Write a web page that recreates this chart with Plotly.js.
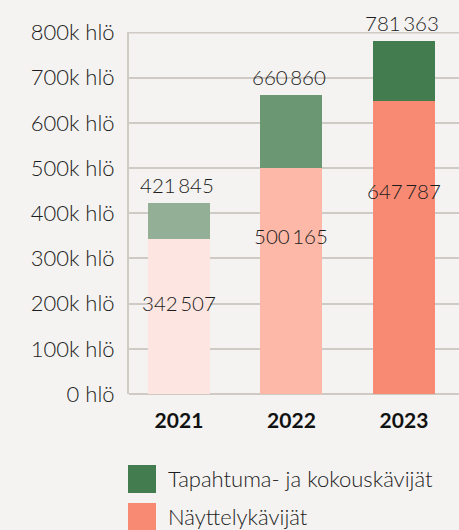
<!DOCTYPE html>
<html>
<head>
<meta charset="utf-8">
<script src="https://cdn.plot.ly/plotly-3.0.1.min.js"></script>
<style>html,body{margin:0;padding:0;background:#f4f3f1;}#chart{width:459px;height:530px;}</style>
</head>
<body>
<div id="chart"></div>
<script>
const years = ['2021', '2022', '2023'];
const nayttely = [342507, 500165, 647787];
const totals = [421845, 660860, 781363];
const tapahtuma = totals.map((t, i) => t - nayttely[i]);
const nayttelyColors = ['#fde6e1', '#fdb8a8', '#f88a74'];
const tapahtumaColors = ['#93b097', '#6b9873', '#437c4f'];
const seriesNames = ['Tapahtuma- ja kokouskävijät', 'Näyttelykävijät'];
const labelFrac = [0.585, 0.70, 0.694];

const fmt = v => String(v).replace(/\B(?=(\d{3})+(?!\d))/g, '\u2009');
const FONT = 'Lato, "Noto Sans", sans-serif';
const TXT = '#1c1c1c';
const FS = 22;
const LFS = 20.5;
const GRID = '#d0cac5';

const traces = [
  {type: 'bar', x: years, y: nayttely, name: seriesNames[1], width: 0.551,
   marker: {color: nayttelyColors}, hoverinfo: 'skip', showlegend: false},
  {type: 'bar', x: years, y: tapahtuma, name: seriesNames[0], width: 0.551,
   marker: {color: tapahtumaColors}, hoverinfo: 'skip', showlegend: false}
];

const annotations = [];
years.forEach((yr, i) => {
  annotations.push({x: i, y: totals[i], text: fmt(totals[i]), showarrow: false,
    xref: 'x', yref: 'y', yanchor: 'bottom', yshift: 4, xshift: -2,
    font: {family: FONT, size: LFS, color: TXT, weight: 300}});
  annotations.push({x: i, y: nayttely[i] * labelFrac[i], text: fmt(nayttely[i]), showarrow: false,
    xref: 'x', yref: 'y', yanchor: 'middle',
    font: {family: FONT, size: LFS, color: TXT, weight: 300}});
});
// legend (custom, large swatches)
const legendColors = [tapahtumaColors[2], nayttelyColors[2]];
const shapes = [
  {type: 'line', xref: 'paper', yref: 'y', x0: 0, x1: 1, y0: 800000, y1: 800000,
   line: {color: GRID, width: 2}, layer: 'below'}
];
seriesNames.forEach((nm, i) => {
  const top = 465 + i * 38;
  shapes.push({type: 'rect', xref: 'paper', yref: 'paper', layer: 'above',
    x0: (128 - 129) / 330, x1: (156 - 129) / 330,
    y0: 1 - (top + 28 - 32) / 362, y1: 1 - (top - 32) / 362,
    fillcolor: legendColors[i], line: {width: 0}});
  annotations.push({xref: 'paper', yref: 'paper', x: (166 - 129) / 330, y: 1 - (top + 13 - 32) / 362,
    xanchor: 'left', yanchor: 'middle', text: nm, showarrow: false,
    font: {family: FONT, size: FS, color: TXT, weight: 300}});
});

const layout = {
  width: 459, height: 530,
  margin: {l: 129, r: 0, t: 32, b: 136},
  paper_bgcolor: '#f4f3f1', plot_bgcolor: '#f4f3f1',
  barmode: 'stack', showlegend: false,
  font: {family: FONT, color: TXT},
  xaxis: {type: 'category', range: [-0.444, 2.489], showgrid: false, zeroline: false, showline: false,
    ticks: 'outside', ticklen: 8, tickcolor: 'rgba(0,0,0,0)', fixedrange: true,
    tickfont: {family: FONT, size: 21, color: '#111', weight: 'bold'}},
  yaxis: {range: [0, 801000], dtick: 100000, tickformat: '~s', ticksuffix: ' hlö',
    showgrid: true, gridcolor: GRID, gridwidth: 2, zeroline: true, zerolinecolor: GRID, zerolinewidth: 2,
    showline: true, linecolor: GRID, linewidth: 2,
    ticks: 'outside', ticklen: 8, tickcolor: 'rgba(0,0,0,0)', fixedrange: true,
    tickfont: {family: FONT, size: FS, color: TXT, weight: 300}},
  annotations: annotations,
  shapes: shapes
};

Plotly.newPlot('chart', traces, layout, {staticPlot: true, displayModeBar: false});
</script>
</body>
</html>
